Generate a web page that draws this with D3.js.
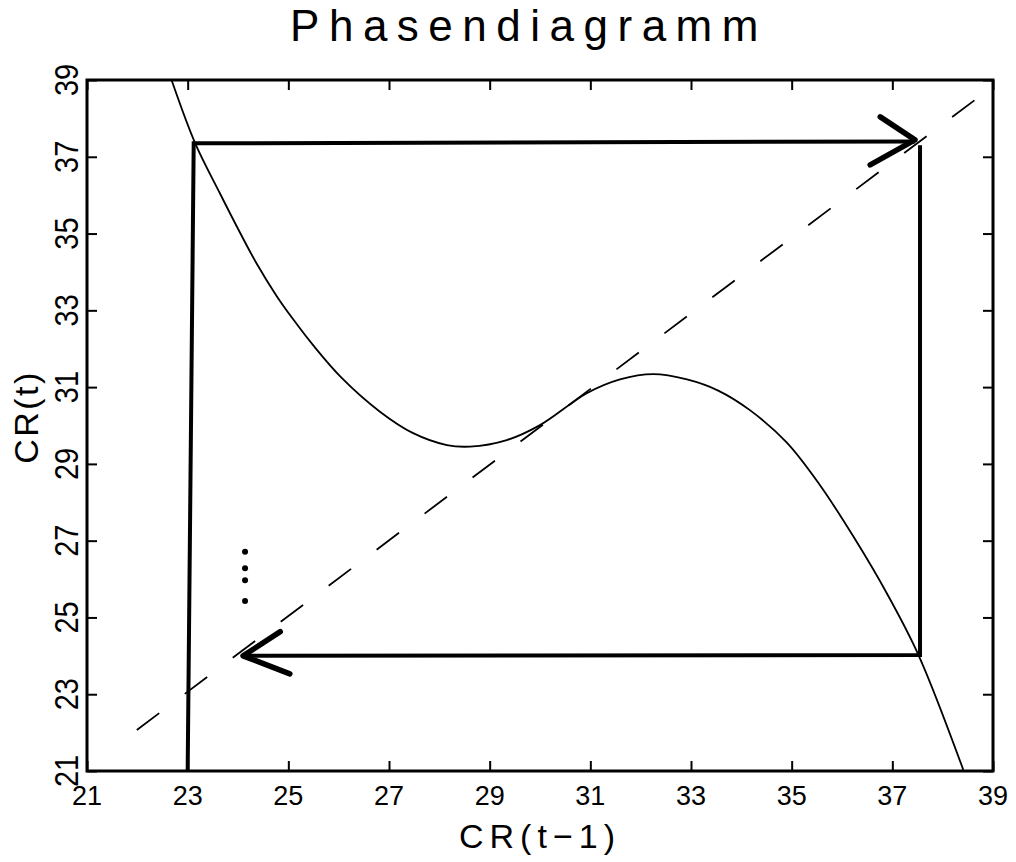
<!DOCTYPE html>
<html>
<head>
<meta charset="utf-8">
<script src="https://cdn.jsdelivr.net/npm/d3@7"></script>
<style>
  html, body { margin: 0; padding: 0; background: #fff; }
  svg { display: block; }
  text { font-family: "Liberation Sans", "DejaVu Sans", Arial, sans-serif; fill: #000; }
</style>
</head>
<body>
<svg id="chart" width="1016" height="862"></svg>
<script>
// ---- data ----
const titleText = "Phasendiagramm";
const xTitle = "CR(t\u22121)";
const yTitle = "CR(t)";
const xTicks = [21, 23, 25, 27, 29, 31, 33, 35, 37, 39];
const yTicks = [21, 23, 25, 27, 29, 31, 33, 35, 37, 39];

// reaction curve CR(t) vs CR(t-1)
const curveX = [22.68, 23.15, 23.64, 24.01, 24.37, 24.77, 25.10, 25.50, 26.06, 26.82, 27.48, 28.15, 28.61, 29.34, 30.00, 30.93, 31.59, 32.25, 32.92, 33.54, 34.17, 34.90, 35.56, 36.23, 36.89, 37.52, 38.41];
const curveY = [39.00, 37.35, 36.05, 35.10, 34.22, 33.37, 32.76, 32.08, 31.24, 30.36, 29.80, 29.49, 29.45, 29.62, 30.01, 30.84, 31.20, 31.34, 31.20, 30.91, 30.40, 29.56, 28.45, 27.10, 25.63, 24.02, 21.03];

// 45-degree line (dashed)
const diagX = [21.99, 38.63];
const diagY = [22.07, 38.47];

// cobweb path segments
const web1X = [23.00, 23.12, 37.45];
const web1Y = [21.00, 37.35, 37.40];
const web2X = [37.55, 37.55, 24.10];
const web2Y = [37.30, 24.02, 24.00];

// arrowheads: tip and two arm ends
const arrowTipX = [37.45, 24.10];
const arrowTipY = [37.44, 24.00];
const arrowArm1X = [36.76, 24.84];
const arrowArm1Y = [38.04, 24.63];
const arrowArm2X = [36.56, 25.03];
const arrowArm2Y = [36.79, 23.53];

// continuation dots
const dotX = [24.14, 24.14, 24.14, 24.14];
const dotY = [26.71, 26.28, 25.97, 25.43];

// ---- layout ----
const svg = d3.select("#chart");
const L = 87, R = 993, T = 80, B = 771;
const x = d3.scaleLinear().domain([21, 39]).range([L, R]);
const y = d3.scaleLinear().domain([21, 39]).range([B, T]);

svg.append("defs").append("clipPath").attr("id", "plotclip")
  .append("rect").attr("x", L).attr("y", T).attr("width", R - L).attr("height", B - T);

const plot = svg.append("g").attr("clip-path", "url(#plotclip)");

// dashed diagonal
plot.append("path")
  .datum(d3.range(diagX.length))
  .attr("d", d3.line().x(i => x(diagX[i])).y(i => y(diagY[i])))
  .attr("fill", "none").attr("stroke", "#000").attr("stroke-width", 1.8)
  .attr("stroke-dasharray", "28,32");

// curve
plot.append("path")
  .datum(d3.range(curveX.length))
  .attr("d", d3.line().x(i => x(curveX[i])).y(i => y(curveY[i])).curve(d3.curveCatmullRom.alpha(0.5)))
  .attr("fill", "none").attr("stroke", "#000").attr("stroke-width", 1.8);

// cobweb
[[web1X, web1Y], [web2X, web2Y]].forEach(([wx, wy]) => {
  plot.append("path")
    .datum(d3.range(wx.length))
    .attr("d", d3.line().x(i => x(wx[i])).y(i => y(wy[i])))
    .attr("fill", "none").attr("stroke", "#000").attr("stroke-width", 4)
    .attr("stroke-linejoin", "miter");
});

// arrowheads
arrowTipX.forEach((tx, k) => {
  const pts = [[arrowArm1X[k], arrowArm1Y[k]], [tx, arrowTipY[k]], [arrowArm2X[k], arrowArm2Y[k]]];
  plot.append("path")
    .attr("d", d3.line().x(p => x(p[0])).y(p => y(p[1]))(pts))
    .attr("fill", "none").attr("stroke", "#000").attr("stroke-width", 5.5)
    .attr("stroke-linecap", "round").attr("stroke-linejoin", "round");
});

// dots
plot.selectAll("circle.dot").data(d3.range(dotX.length)).enter().append("circle")
  .attr("class", "dot")
  .attr("cx", i => x(dotX[i])).attr("cy", i => y(dotY[i])).attr("r", 3)
  .attr("fill", "#000");

// ---- axes (inward ticks on all four sides) ----
const tickLen = 10;
const axB = svg.append("g").attr("transform", `translate(0,${B})`)
  .call(d3.axisBottom(x).tickValues(xTicks).tickSize(-tickLen).tickFormat(""));
const axT = svg.append("g").attr("transform", `translate(0,${T})`)
  .call(d3.axisTop(x).tickValues(xTicks).tickSize(-tickLen).tickFormat(""));
const axL = svg.append("g").attr("transform", `translate(${L},0)`)
  .call(d3.axisLeft(y).tickValues(yTicks).tickSize(-tickLen).tickFormat(""));
const axR = svg.append("g").attr("transform", `translate(${R},0)`)
  .call(d3.axisRight(y).tickValues(yTicks).tickSize(-tickLen).tickFormat(""));
[axB, axT, axL, axR].forEach(a => {
  a.select(".domain").remove();
  a.selectAll(".tick line").attr("stroke", "#000").attr("stroke-width", 2);
});

// frame
svg.append("rect").attr("x", L).attr("y", T).attr("width", R - L).attr("height", B - T)
  .attr("fill", "none").attr("stroke", "#000").attr("stroke-width", 3);

// tick labels
svg.append("g").selectAll("text").data(xTicks).enter().append("text")
  .attr("x", d => x(d)).attr("y", 805)
  .attr("text-anchor", "middle").attr("font-size", 27)
  .text(d => d);
svg.append("g").selectAll("text").data(yTicks).enter().append("text")
  .attr("transform", d => `translate(78,${y(d)}) rotate(-90) scale(1,1.12)`)
  .attr("text-anchor", "middle").attr("font-size", 29)
  .text(d => d);

// titles
svg.append("text").attr("x", 529).attr("y", 41)
  .attr("text-anchor", "middle").attr("font-size", 44)
  .attr("letter-spacing", "9.5px")
  .text(titleText);
svg.append("text").attr("x", 540).attr("y", 848)
  .attr("text-anchor", "middle").attr("font-size", 34)
  .attr("letter-spacing", "6px")
  .text(xTitle);
svg.append("text").attr("transform", "translate(38,417) rotate(-90)")
  .attr("text-anchor", "middle").attr("font-size", 34)
  .attr("letter-spacing", "2.5px")
  .text(yTitle);
</script>
</body>
</html>
